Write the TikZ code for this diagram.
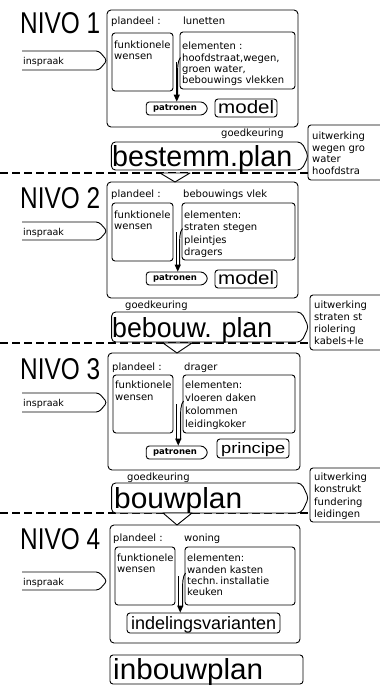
\documentclass[tikz,border=0pt]{standalone}
\usepackage{fontspec}
\usepackage{graphicx}
\setmainfont{DejaVu Sans}
\newfontfamily\bigf{Liberation Sans}
\usetikzlibrary{shapes.symbols,arrows.meta,calc}

\newcommand\fitbox[3]{\resizebox{#1pt}{#2pt}{\bigf #3}}
% #1 style, #2 name, #3 x1, #4 y1, #5 x2, #6 y2, #7 text
\newcommand\rectnode[7]{%
  \pgfmathsetmacro\rncx{(#3+#5)/2}\pgfmathsetmacro\rncy{(#4+#6)/2}%
  \pgfmathsetmacro\rnw{#5-#3}\pgfmathsetmacro\rnh{#6-#4}%
  \node[#1, minimum width=\rnw pt, minimum height=\rnh pt] (#2) at (\rncx,\rncy) {#7};}
% merging connector from funktionele/elementen boxes to target
\newcommand\merge[4]{%
  \path (#1.east) ++(2.5,0) coordinate (v#4);
  \path (#2.west) ++(-2,14) coordinate (c#4);
  \draw[ln] (v#4) -- ($(v#4 |- #3.north)+(0,-6)$);
  \draw[ln] ($(#2.west)+(1,-3)$) .. controls +(-3,3) and +(0,-6) .. (c#4) -- ($(c#4 |- #3.north)+(0,-6)$);
  \fill ($(v#4 |- #3.north)!.5!(c#4 |- #3.north)+(-3.2,-7)$) -- ++(6.4,0) -- ++(-3.2,7) -- cycle;}
\newcommand\inspr[4]{% name, y1, y2, baseline
  \pgfmathsetmacro\inm{(#2+#3)/2}%
  \draw[ln, rounded corners=3pt] (22,#2) -- (99,#2) -- (107,\inm) -- (99,#3) -- (22,#3);
  \node[insp] (#1) at (23,#4) {inspraak};}

\tikzset{
  ln/.style={line width=0.9pt},
  mainbox/.style={draw, ln, rounded corners=4pt, inner sep=0pt},
  subbox/.style={draw, ln, rounded corners=3pt, inner sep=0pt},
  small/.style={font=\fontsize{10}{12}\selectfont, inner sep=0pt, anchor=base west},
  insp/.style={font=\fontsize{9.5}{11}\selectfont, inner sep=0pt, anchor=base west},
  big/.style={inner sep=0pt, anchor=base west},
  planbox/.style={draw, ln, fill=white, shape=signal, signal to=east, signal pointer angle=128, rounded corners=4pt, inner sep=0pt},
  patbox/.style={draw, ln, shape=signal, signal to=east, signal pointer angle=110, rounded corners=3pt, inner sep=0pt, font=\fontsize{8.5}{9}\selectfont\bfseries},
  dashline/.style={line width=1.1pt, dash pattern=on 8pt off 4pt},
  tri/.style={draw, ln, fill=white, line join=round},
}

\begin{document}
\begin{tikzpicture}[x=1pt,y=-1pt]
\useasboundingbox (0,0) rectangle (380,688);
\clip (0,0) rectangle (380,688);
\fill[white] (0,0) rectangle (380,688);

% ---------------- NIVO 1
\rectnode{mainbox}{m1}{107}{10}{298}{127}{}
\node[big] (n1) at (20,33) {\fitbox{80}{21}{NIVO 1}};
\node[small] (pd1) at (111,24) {plandeel :};
\node[small] (pv1) at (183,24) {lunetten};
\rectnode{subbox}{f1}{112}{33}{173}{91}{}
\node[small] (fa1) at (114,48) {funktionele};
\node[small] (fb1) at (114,59) {wensen};
\rectnode{subbox}{e1}{180}{32}{295}{89}{}
\node[small] (ea1) at (182,49) {elementen :};
\node[small] (eb1) at (182,61) {hoofdstraat,wegen,};
\node[small] (ec1) at (182,72) {groen water,};
\node[small] (ed1) at (182,83) {bebouwings vlekken};
\rectnode{patbox}{p1}{144}{102}{206}{115}{patronen}
\rectnode{subbox}{md1}{215}{99}{277}{117}{}
\node[big] (mt1) at (218,113) {\fitbox{56}{13}{model}};
\merge{f1}{e1}{p1}{1}
\inspr{in1}{51}{70}{64}
\node[small] (g1) at (221,136) {goedkeuring};
\rectnode{subbox}{u1}{308}{125}{400}{180}{}
\node[small] (ua1) at (312,139) {uitwerking};
\node[small] (ub1) at (312,151) {wegen gro};
\node[small] (uc1) at (312,162) {water};
\node[small] (ud1) at (312,174) {hoofdstra};
\draw[dashline] (0,173) -- (0,173 -| u1.west);
\rectnode{planbox}{pl1}{108}{142}{305}{170}{}
\node[big] (pt1) at (112,166) {\fitbox{180}{21}{bestemm.plan}};
\draw[tri] (160,173) -- (190,173) -- (175,182) -- cycle;

% ---------------- NIVO 2
\rectnode{mainbox}{m2}{107}{182}{298}{298}{}
\node[big] (n2) at (20,208) {\fitbox{80}{21}{NIVO 2}};
\node[small] (pd2) at (111,197) {plandeel :};
\node[small] (pv2) at (183,197) {bebouwings vlek};
\rectnode{subbox}{f2}{112}{203}{173}{261}{}
\node[small] (fa2) at (114,218) {funktionele};
\node[small] (fb2) at (114,229) {wensen};
\rectnode{subbox}{e2}{182}{203}{295}{260}{}
\node[small] (ea2) at (184,218) {elementen:};
\node[small] (eb2) at (184,230) {straten stegen};
\node[small] (ec2) at (184,243) {pleintjes};
\node[small] (ed2) at (184,255) {dragers};
\rectnode{patbox}{p2}{144}{272}{206}{285}{patronen}
\rectnode{subbox}{md2}{215}{270}{277}{288}{}
\node[big] (mt2) at (218,284) {\fitbox{56}{13}{model}};
\merge{f2}{e2}{p2}{2}
\inspr{in2}{222}{240}{235}
\node[small] (g2) at (125,308) {goedkeuring};
\rectnode{subbox}{u2}{310}{295}{400}{350}{}
\node[small] (ua2) at (314,308) {uitwerking};
\node[small] (ub2) at (314,320) {straten st};
\node[small] (uc2) at (314,332) {riolering};
\node[small] (ud2) at (314,344) {kabels+le};
\draw[dashline] (0,343) -- (0,343 -| u2.west);
\rectnode{planbox}{pl2}{108}{312}{305}{342}{}
\node[big] (pt2) at (112,337) {\fitbox{160}{20}{bebouw. plan}};
\draw[tri] (163,343) -- (192,343) -- (177,353) -- cycle;

% ---------------- NIVO 3
\rectnode{mainbox}{m3}{108}{353}{300}{470}{}
\node[big] (n3) at (20,379) {\fitbox{80}{21}{NIVO 3}};
\node[small] (pd3) at (112,370) {plandeel :};
\node[small] (pv3) at (184,370) {drager};
\rectnode{subbox}{f3}{113}{375}{173}{433}{}
\node[small] (fa3) at (115,388) {funktionele};
\node[small] (fb3) at (115,400) {wensen};
\rectnode{subbox}{e3}{183}{375}{295}{433}{}
\node[small] (ea3) at (185,388) {elementen:};
\node[small] (eb3) at (185,401) {vloeren daken};
\node[small] (ec3) at (185,414) {kolommen};
\node[small] (ed3) at (185,427) {leidingkoker};
\rectnode{patbox}{p3}{144}{446}{206}{459}{patronen}
\rectnode{subbox}{pr3}{217}{439}{289}{458}{}
\node[big] (prt3) at (221,453) {\fitbox{64}{11}{principe}};
\merge{f3}{e3}{p3}{3}
\inspr{in3}{393}{412}{406}
\node[small] (g3) at (127,480) {goedkeuring};
\rectnode{subbox}{u3}{310}{468}{400}{522}{}
\node[small] (ua3) at (314,480) {uitwerking};
\node[small] (ub3) at (314,492) {konstrukt};
\node[small] (uc3) at (314,505) {fundering};
\node[small] (ud3) at (314,517) {leidingen};
\draw[dashline] (0,513) -- (0,513 -| u3.west);
\rectnode{planbox}{pl3}{108}{483}{305}{513}{}
\node[big] (pt3) at (114,508) {\fitbox{128}{21}{bouwplan}};
\draw[tri] (163,513) -- (192,513) -- (177,525) -- cycle;

% ---------------- NIVO 4
\rectnode{mainbox}{m4}{110}{525}{300}{643}{}
\node[big] (n4) at (20,549) {\fitbox{80}{21}{NIVO 4}};
\node[small] (pd4) at (113,541) {plandeel :};
\node[small] (pv4) at (184,541) {woning};
\rectnode{subbox}{f4}{115}{547}{175}{605}{}
\node[small] (fa4) at (117,561) {funktionele};
\node[small] (fb4) at (117,572) {wensen};
\rectnode{subbox}{e4}{185}{547}{295}{605}{}
\node[small] (ea4) at (187,561) {elementen:};
\node[small] (eb4) at (187,573) {wanden kasten};
\node[small] (ec4) at (187,584) {techn.\,installatie};
\node[small] (ed4) at (187,595) {keuken};
\rectnode{subbox}{ib4}{127}{613}{280}{633}{}
\node[big] (it4) at (131,629) {\fitbox{145}{13}{indelingsvarianten}};
\merge{f4}{e4}{ib4}{4}
\inspr{in4}{572}{590}{585}
\rectnode{subbox}{ip}{110}{655}{303}{684}{}
\node[big] (ipt) at (113,679) {\fitbox{150}{21}{inbouwplan}};
\end{tikzpicture}
\end{document}
